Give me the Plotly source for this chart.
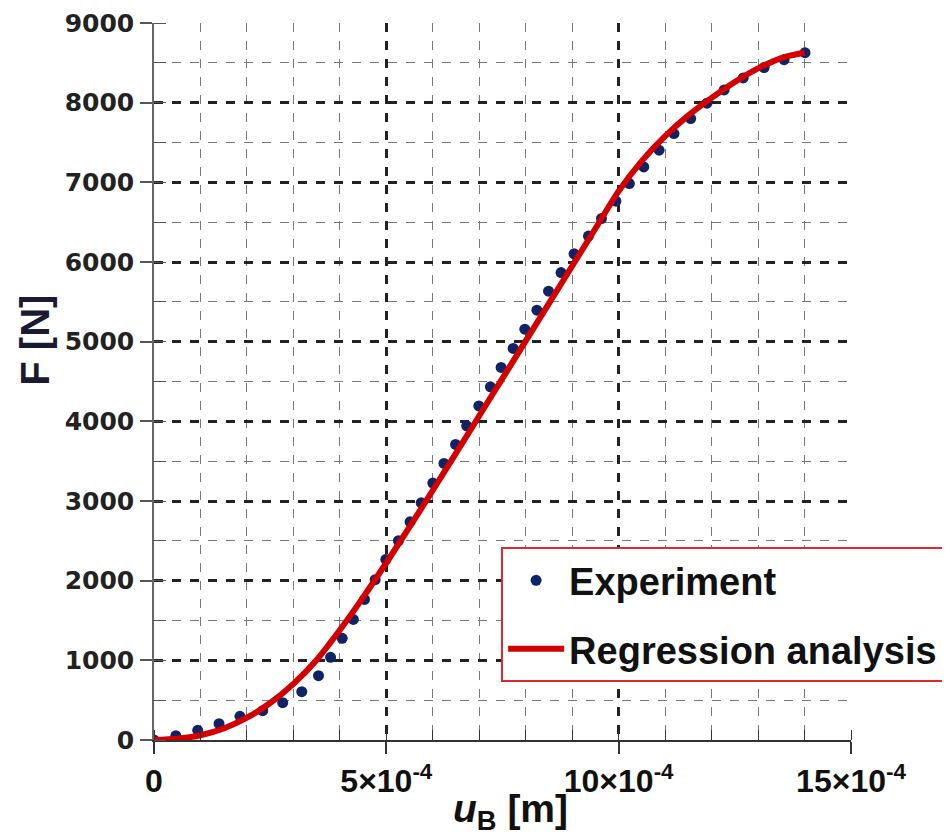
import plotly.graph_objects as go

# Experimental data (u_B in m, F in N)
u_exp = [0.0, 0.47e-4, 0.94e-4, 1.40e-4, 1.85e-4, 2.34e-4, 2.77e-4, 3.18e-4, 3.54e-4, 3.80e-4,
         4.05e-4, 4.29e-4, 4.53e-4, 4.76e-4, 4.99e-4, 5.26e-4, 5.51e-4, 5.75e-4, 6.00e-4, 6.24e-4,
         6.49e-4, 6.73e-4, 6.99e-4, 7.24e-4, 7.47e-4, 7.73e-4, 7.98e-4, 8.24e-4, 8.49e-4, 8.76e-4,
         9.04e-4, 9.35e-4, 9.63e-4, 9.94e-4, 10.23e-4, 10.54e-4, 10.87e-4, 11.19e-4, 11.55e-4, 11.90e-4,
         12.27e-4, 12.68e-4, 13.13e-4, 13.56e-4, 14.01e-4]
F_exp = [0, 54, 122, 205, 297, 368, 468, 606, 807, 1038,
         1276, 1514, 1765, 2012, 2267, 2501, 2739, 2977, 3225, 3471,
         3710, 3944, 4193, 4433, 4676, 4915, 5157, 5395, 5634, 5868,
         6102, 6326, 6545, 6763, 6985, 7194, 7403, 7612, 7800, 7993,
         8160, 8310, 8440, 8540, 8628]

# Regression curve samples
u_reg = [0.0, 0.5e-4, 1.0e-4, 1.5e-4, 2.0e-4, 2.5e-4, 3.0e-4, 3.5e-4, 4.0e-4, 4.5e-4,
         5.0e-4, 5.5e-4, 6.0e-4, 6.5e-4, 7.0e-4, 7.5e-4, 8.0e-4, 8.5e-4, 9.0e-4, 9.5e-4,
         10.0e-4, 10.5e-4, 11.0e-4, 11.5e-4, 12.0e-4, 12.5e-4, 13.0e-4, 13.5e-4, 14.0e-4]
F_reg = [0, 15, 60, 145, 280, 465, 705, 1005, 1380, 1790,
         2225, 2675, 3135, 3600, 4070, 4540, 5010, 5480, 5950, 6420,
         6890, 7270, 7580, 7840, 8060, 8260, 8430, 8560, 8630]

x_tickvals = [0, 5e-4, 10e-4, 15e-4]
x_ticktext = ["0", "5×10<sup>-4</sup>", "10×10<sup>-4</sup>", "15×10<sup>-4</sup>"]
y_tickvals = [0, 1000, 2000, 3000, 4000, 5000, 6000, 7000, 8000, 9000]

fig = go.Figure()
fig.add_trace(go.Scatter(
    x=u_exp, y=F_exp, mode="markers", name="Experiment",
    marker=dict(color="#0f2466", size=11), legendgroup="a"))
fig.add_trace(go.Scatter(
    x=u_reg, y=F_reg, mode="lines", name="Regression analysis",
    line=dict(color="#d40000", width=6, shape="spline", smoothing=0.8), legendgroup="b"))

sans = "Liberation Sans, Arial, sans-serif"

fig.update_layout(
    width=950, height=838,
    margin=dict(l=146, r=107, t=15, b=106),
    plot_bgcolor="white", paper_bgcolor="white",
    showlegend=True,
    legend=dict(
        x=0.498, y=0.269, xanchor="left", yanchor="top",
        bgcolor="white", bordercolor="#e0282e", borderwidth=2,
        font=dict(family=sans, size=38, color="#111", weight="bold"),
        tracegroupgap=16, itemwidth=56,
    ),
    xaxis=dict(
        range=[0, 15e-4], tickvals=x_tickvals, ticktext=x_ticktext,
        tickfont=dict(family=sans, size=32, color="#111", weight="bold"),
        ticks="outside", ticklen=12, tickwidth=1.5, tickcolor="#333",
        showline=True, linecolor="#333", linewidth=1.5,
        showgrid=True, gridcolor="#222", gridwidth=2.5, griddash="dash",
        zeroline=False, automargin=False,
        minor=dict(dtick=1e-4, tick0=0, ticks="inside", ticklen=10, tickcolor="#333", tickwidth=1,
                   showgrid=True, gridcolor="#777", gridwidth=1, griddash="dash"),
    ),
    yaxis=dict(
        range=[0, 9000], tickvals=y_tickvals,
        tickfont=dict(family="DejaVu Sans, Verdana, sans-serif", size=25, color="#222", weight="bold"),
        ticks="outside", ticklen=12, tickwidth=1.5, tickcolor="#555",
        showline=True, linecolor="#666", linewidth=1.5,
        showgrid=True, gridcolor="#222", gridwidth=2.5, griddash="dash",
        zeroline=False, ticklabelstandoff=1, automargin=False,
        minor=dict(dtick=500, tick0=0, ticks="inside", ticklen=12, tickcolor="#555", tickwidth=1,
                   showgrid=True, gridcolor="#777", gridwidth=1, griddash="dash"),
    ),
)

fig.add_annotation(
    text="F [N]", xref="paper", yref="paper", x=-0.171, y=0.558,
    xanchor="center", yanchor="middle",
    textangle=-90, showarrow=False,
    font=dict(family=sans, size=40, color="#1a1a33", weight="bold"),
)
fig.add_annotation(
    text="<i>u</i><sub>B</sub> [m]", xref="paper", yref="paper", x=0.511, y=-0.1,
    xanchor="center", yanchor="middle", showarrow=False,
    font=dict(family=sans, size=39, color="#111", weight="bold"),
)

fig.write_html("out.html")
